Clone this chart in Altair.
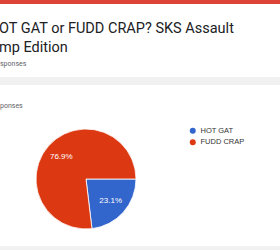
import altair as alt
import pandas as pd

categories = ["HOT GAT", "FUDD CRAP"]
shares = [23.1, 76.9]
labels = ["23.1%", "76.9%"]
colors = ["#3366cc", "#dc3912"]

title_line1 = "OT GAT or FUDD CRAP? SKS Assault"
title_line2 = "mp Edition"
sub1 = "sponses"
sub2 = "ponses"

df = pd.DataFrame({"cat": categories, "share": shares, "label": labels, "order": [0, 1]})
one = pd.DataFrame({"a": [0]})

base = alt.Chart(df).encode(
    theta=alt.Theta("share:Q", stack=True,
                    scale=alt.Scale(range=[1.5708, 7.8540])),
    order=alt.Order("order:Q"),
)

pie = base.mark_arc(outerRadius=50, stroke="white", strokeWidth=0.8).encode(
    x=alt.value(86), y=alt.value(179),
    color=alt.Color("cat:N", scale=alt.Scale(domain=categories, range=colors),
                    legend=alt.Legend(title=None, orient="none", legendX=189, legendY=127,
                                      symbolType="circle", symbolSize=36,
                                      symbolStrokeWidth=0,
                                      labelFont="Arial", labelFontSize=7.5,
                                      labelColor="#333333", rowPadding=2.5,
                                      labelOffset=4)),
)

txt = base.mark_text(radius=33, font="Arial", fontSize=8, color="white").encode(
    x=alt.value(86), y=alt.value(179),
    text="label:N",
)

bg = alt.Chart(one)
band_top = bg.mark_rect(color="#db4437").encode(
    x=alt.value(0), x2=alt.value(280), y=alt.value(0), y2=alt.value(4))
band_mid = bg.mark_rect(color="#f1f1f1").encode(
    x=alt.value(0), x2=alt.value(280), y=alt.value(77), y2=alt.value(85))
band_bot = bg.mark_rect(color="#f1f1f1").encode(
    x=alt.value(0), x2=alt.value(280), y=alt.value(246), y2=alt.value(250))

t1 = bg.mark_text(align="left", baseline="alphabetic", font="Roboto", fontSize=14.5,
                  color="#202124").encode(x=alt.value(-1), y=alt.value(33),
                                          text=alt.value(title_line1))
t2 = bg.mark_text(align="left", baseline="alphabetic", font="Roboto", fontSize=14.5,
                  color="#202124").encode(x=alt.value(-1), y=alt.value(52),
                                          text=alt.value(title_line2))
s1 = bg.mark_text(align="left", baseline="alphabetic", font="Roboto", fontSize=7,
                  color="#5f6368").encode(x=alt.value(0), y=alt.value(66),
                                          text=alt.value(sub1))
s2 = bg.mark_text(align="left", baseline="alphabetic", font="Roboto", fontSize=7,
                  color="#5f6368").encode(x=alt.value(0), y=alt.value(108),
                                          text=alt.value(sub2))

chart = alt.layer(band_top, band_mid, band_bot, t1, t2, s1, s2, pie, txt).properties(
    width=280, height=250, padding=0, autosize="none", background="white"
).configure_view(stroke=None)

chart.save("out.html", embed_options={"renderer": "svg", "actions": False})
